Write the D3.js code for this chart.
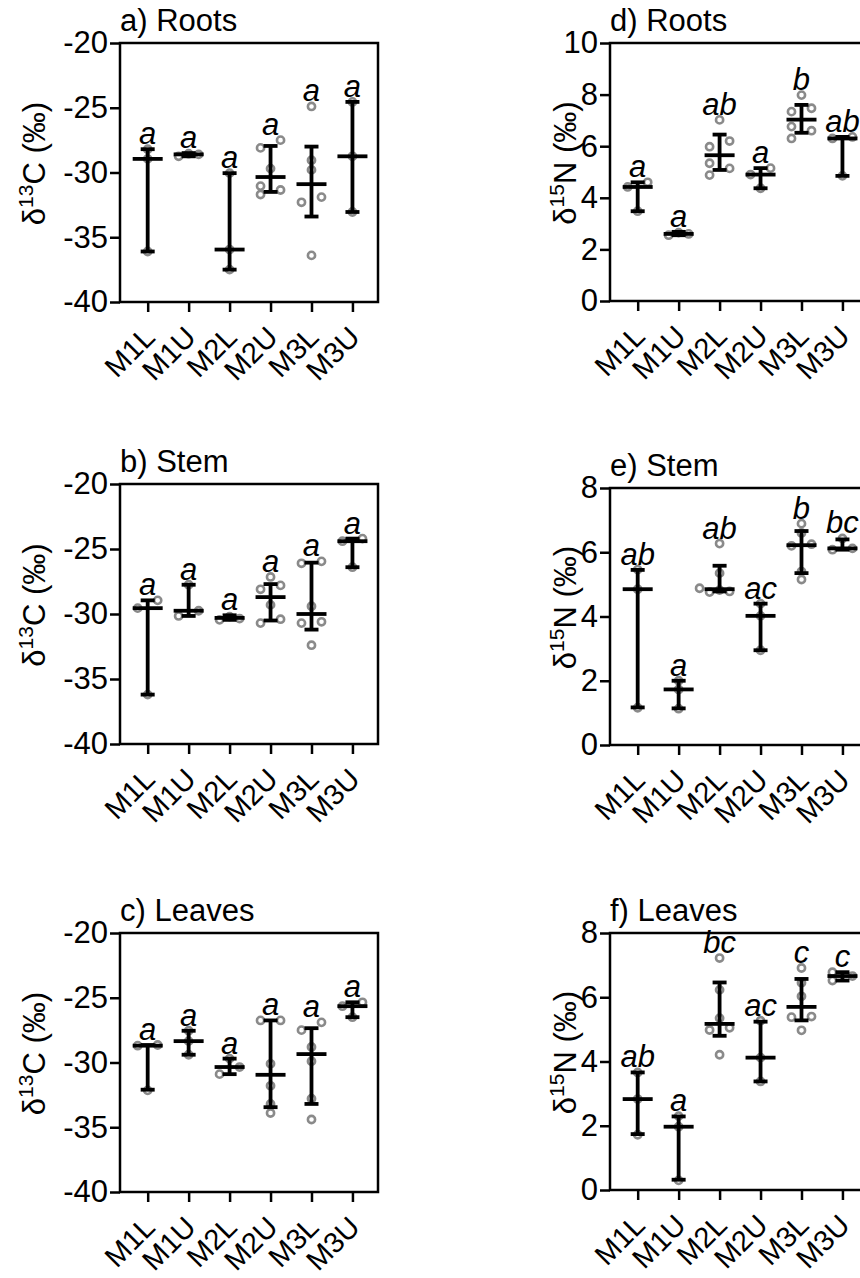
<!DOCTYPE html>
<html>
<head>
<meta charset="utf-8">
<script src="https://cdn.jsdelivr.net/npm/d3@7"></script>
<style>
  body { margin: 0; background: #fff; }
  svg { display: block; }
  text { font-family: "Liberation Sans", Arial, Helvetica, sans-serif; fill: #000; }
</style>
</head>
<body>
<svg id="chart" width="860" height="1278"></svg>
<script>
// Sampling sites (x categories)
const categories = ["M1L", "M1U", "M2L", "M2U", "M3L", "M3U"];

// a) Roots, δ13C (‰): individual samples, median and interquartile range per site
const rootsCPoints = [
  [-28.2, -28.95, -36.1],
  [-28.75, -28.6, -28.55],
  [-30.05, -35.95, -37.5],
  [-27.5, -28.1, -29.7, -31.05, -31.35, -31.7],
  [-24.9, -29.05, -29.8, -31.9, -32.3, -36.4],
  [-24.55, -28.75, -33.05]
];
const rootsCMedian = [-28.95, -28.6, -35.95, -30.35, -30.9, -28.75];
const rootsCLow    = [-36.1, -28.75, -37.5, -31.5, -33.4, -33.05];
const rootsCHigh   = [-28.2, -28.5, -30.05, -27.95, -28.0, -24.55];
const rootsCLetters = ["a", "a", "a", "a", "a", "a"];

// b) Stem, δ13C (‰)
const stemCPoints = [
  [-28.95, -29.55, -36.2],
  [-27.75, -29.75, -30.15],
  [-30.2, -30.35, -30.45],
  [-27.15, -27.8, -28.1, -29.3, -30.4, -30.7],
  [-25.95, -26.1, -29.4, -30.6, -30.7, -32.4],
  [-24.2, -24.4, -26.4]
];
const stemCMedian = [-29.55, -29.75, -30.3, -28.7, -30.0, -24.4];
const stemCLow    = [-36.2, -30.15, -30.45, -30.5, -31.2, -26.4];
const stemCHigh   = [-28.95, -27.75, -30.1, -27.7, -26.05, -24.2];
const stemCLetters = ["a", "a", "a", "a", "a", "a"];

// c) Leaves, δ13C (‰)
const leavesCPoints = [
  [-28.65, -28.7, -32.15],
  [-27.55, -28.35, -29.4],
  [-29.7, -30.35, -30.9],
  [-26.75, -26.75, -30.1, -31.8, -33.2, -33.9],
  [-26.9, -27.5, -28.8, -29.9, -32.8, -34.4],
  [-25.35, -25.65, -26.5]
];
const leavesCMedian = [-28.7, -28.35, -30.35, -30.95, -29.35, -25.65];
const leavesCLow    = [-32.1, -29.4, -30.9, -33.45, -33.2, -26.5];
const leavesCHigh   = [-28.65, -27.55, -29.7, -26.75, -27.35, -25.35];
const leavesCLetters = ["a", "a", "a", "a", "a", "a"];

// d) Roots, δ15N (‰)
const rootsNPoints = [
  [4.6, 4.42, 3.48],
  [2.55, 2.6, 2.65],
  [7.02, 6.2, 5.98, 5.34, 5.14, 4.88],
  [5.15, 4.9, 4.37],
  [7.98, 7.47, 7.34, 6.76, 6.6, 6.3],
  [6.36, 6.3, 4.85]
];
const rootsNMedian = [4.42, 2.6, 5.65, 4.9, 7.03, 6.3];
const rootsNLow    = [3.48, 2.55, 5.08, 4.37, 6.52, 4.85];
const rootsNHigh   = [4.6, 2.68, 6.45, 5.15, 7.6, 6.36];
const rootsNLetters = ["a", "a", "ab", "a", "b", "ab"];

// e) Stem, δ15N (‰)
const stemNPoints = [
  [5.46, 4.85, 1.16],
  [2.0, 1.73, 1.13],
  [6.27, 5.35, 4.88, 4.82, 4.78, 4.76],
  [4.4, 4.02, 2.95],
  [6.89, 6.6, 6.25, 6.2, 5.4, 5.15],
  [6.43, 6.12, 6.08]
];
const stemNMedian = [4.85, 1.73, 4.85, 4.02, 6.22, 6.12];
const stemNLow    = [1.17, 1.14, 4.78, 2.95, 5.35, 6.08];
const stemNHigh   = [5.45, 2.0, 5.58, 4.4, 6.66, 6.4];
const stemNLetters = ["ab", "a", "ab", "ac", "b", "bc"];

// f) Leaves, δ15N (‰)
const leavesNPoints = [
  [3.66, 2.83, 1.72],
  [2.3, 1.97, 0.3],
  [7.22, 6.23, 5.35, 5.05, 4.98, 4.21],
  [5.27, 4.12, 3.38],
  [6.91, 6.45, 6.03, 5.4, 5.38, 4.97],
  [6.78, 6.66, 6.52]
];
const leavesNMedian = [2.83, 1.97, 5.17, 4.12, 5.7, 6.66];
const leavesNLow    = [1.74, 0.32, 4.8, 3.38, 5.28, 6.52];
const leavesNHigh   = [3.66, 2.29, 6.46, 5.24, 6.57, 6.78];
const leavesNLetters = ["ab", "a", "bc", "ac", "c", "c"];

// Axis settings
const carbonDomain = [-40, -20];
const carbonTicks = [-40, -35, -30, -25, -20];
const rootsNDomain = [0, 10];
const rootsNTicks = [0, 2, 4, 6, 8, 10];
const organNDomain = [0, 8];
const organNTicks = [0, 2, 4, 6, 8];

const panels = [
  { title: "a) Roots",  iso: "13", el: "C", points: rootsCPoints,  median: rootsCMedian,  low: rootsCLow,  high: rootsCHigh,  letters: rootsCLetters,  domain: carbonDomain, ticks: carbonTicks, left: 120, top: 43,  bottom: 302 },
  { title: "b) Stem",   iso: "13", el: "C", points: stemCPoints,   median: stemCMedian,   low: stemCLow,   high: stemCHigh,   letters: stemCLetters,   domain: carbonDomain, ticks: carbonTicks, left: 120, top: 484, bottom: 744 },
  { title: "c) Leaves", iso: "13", el: "C", points: leavesCPoints, median: leavesCMedian, low: leavesCLow, high: leavesCHigh, letters: leavesCLetters, domain: carbonDomain, ticks: carbonTicks, left: 120, top: 933, bottom: 1192 },
  { title: "d) Roots",  iso: "15", el: "N", points: rootsNPoints,  median: rootsNMedian,  low: rootsNLow,  high: rootsNHigh,  letters: rootsNLetters,  domain: rootsNDomain, ticks: rootsNTicks, left: 610, top: 43,  bottom: 301 },
  { title: "e) Stem",   iso: "15", el: "N", points: stemNPoints,   median: stemNMedian,   low: stemNLow,   high: stemNHigh,   letters: stemNLetters,   domain: organNDomain, ticks: organNTicks, left: 610, top: 488, bottom: 745 },
  { title: "f) Leaves", iso: "15", el: "N", points: leavesNPoints, median: leavesNMedian, low: leavesNLow, high: leavesNHigh, letters: leavesNLetters, domain: organNDomain, ticks: organNTicks, left: 610, top: 933, bottom: 1190 }
];

const plotWidth = 258;
const fontMain = 31;
const pointColor = "#8a8a8a";
const pointR = 3.6;
const swarmStep = 10;
const swarmGap = 8;

const svg = d3.select("#chart");

// Spread points that sit too close vertically to the left/right of the column centre
function swarm(values, y) {
  const order = values.map((v, i) => i).sort((a, b) => y(values[b]) - y(values[a]));
  const groups = [];
  let cur = [];
  order.forEach(i => {
    if (cur.length && Math.abs(y(values[i]) - y(values[cur[cur.length - 1]])) >= swarmGap) {
      groups.push(cur);
      cur = [];
    }
    cur.push(i);
  });
  if (cur.length) groups.push(cur);
  const dx = values.map(() => 0);
  groups.forEach(g => {
    if (g.length < 2) return;
    const placed = [];
    g.forEach((i, k) => {
      const prefs = k % 2 === 0 ? [-1, 1, 0, -2, 2] : [1, -1, 0, -2, 2];
      const py = y(values[i]);
      let slot = prefs.find(s => placed.every(p => p.s !== s || Math.abs(p.y - py) >= swarmGap));
      if (slot === undefined) slot = 0;
      placed.push({ s: slot, y: py });
      dx[i] = slot * swarmStep;
    });
  });
  return dx;
}

panels.forEach(p => {
  const x = d3.scalePoint()
    .domain(categories)
    .range([p.left, p.left + plotWidth])
    .padding(0.65)
    .align(0.52);
  const y = d3.scaleLinear().domain(p.domain).range([p.bottom, p.top]);

  const g = svg.append("g");

  // y axis
  const yAxis = g.append("g")
    .attr("transform", `translate(${p.left},0)`)
    .call(d3.axisLeft(y).tickValues(p.ticks).tickSize(10).tickPadding(2).tickFormat(d => String(d)));
  yAxis.select(".domain").remove();
  yAxis.selectAll(".tick line").attr("stroke", "#000").attr("stroke-width", 2.5);
  yAxis.selectAll(".tick text")
    .attr("font-size", fontMain)
    .attr("font-family", "'Liberation Sans', Arial, sans-serif")
    .attr("fill", "#000");

  // x axis
  const xAxis = g.append("g")
    .attr("transform", `translate(0,${p.bottom})`)
    .call(d3.axisBottom(x).tickSize(10).tickFormat(""));
  xAxis.select(".domain").remove();
  xAxis.selectAll(".tick line").attr("stroke", "#000").attr("stroke-width", 2.5);

  // rotated category labels
  g.append("g").selectAll("text")
    .data(categories)
    .join("text")
    .attr("transform", d => `translate(${x(d) + 9},${p.bottom + 37}) rotate(-45)`)
    .attr("text-anchor", "end")
    .attr("font-size", 29)
    .text(d => d);

  // frame
  g.append("rect")
    .attr("x", p.left)
    .attr("y", p.top)
    .attr("width", plotWidth)
    .attr("height", p.bottom - p.top)
    .attr("fill", "none")
    .attr("stroke", "#000")
    .attr("stroke-width", 2.5);

  // title
  g.append("text")
    .attr("x", p.left)
    .attr("y", p.top - 12)
    .attr("font-size", fontMain)
    .text(p.title);

  // y-axis label with superscript isotope number
  const yl = g.append("text")
    .attr("transform", `translate(${p.left < 300 ? 45 : 576},${(p.top + p.bottom) / 2 - 9}) rotate(-90)`)
    .attr("text-anchor", "middle")
    .attr("font-size", fontMain);
  yl.append("tspan").text("δ");
  yl.append("tspan").attr("font-size", 21).attr("dy", -12).text(p.iso);
  yl.append("tspan").attr("dy", 12).text(p.el + " (‰)");

  categories.forEach((c, i) => {
    const cx = x(c);
    const vals = p.points[i];
    const dx = swarm(vals, y);

    // individual samples
    g.append("g").selectAll("circle")
      .data(vals)
      .join("circle")
      .attr("cx", (d, j) => cx + dx[j])
      .attr("cy", d => y(d))
      .attr("r", pointR)
      .attr("fill", "none")
      .attr("stroke", pointColor)
      .attr("stroke-width", 2.6);

    // interquartile range with caps, median line
    const bar = g.append("g").attr("stroke", "#000").attr("stroke-width", 3.8);
    bar.append("line").attr("x1", cx).attr("x2", cx).attr("y1", y(p.low[i])).attr("y2", y(p.high[i]));
    bar.append("line").attr("x1", cx - 7).attr("x2", cx + 7).attr("y1", y(p.low[i])).attr("y2", y(p.low[i]));
    bar.append("line").attr("x1", cx - 7).attr("x2", cx + 7).attr("y1", y(p.high[i])).attr("y2", y(p.high[i]));
    bar.append("line").attr("x1", cx - 15).attr("x2", cx + 15).attr("y1", y(p.median[i])).attr("y2", y(p.median[i]));

    // significance letters above the highest mark
    const topVal = Math.max(p.high[i], d3.max(vals));
    g.append("text")
      .attr("x", cx)
      .attr("y", y(topVal) - 5)
      .attr("text-anchor", "middle")
      .attr("font-size", fontMain)
      .attr("font-style", "italic")
      .text(p.letters[i]);
  });
});
</script>
</body>
</html>
